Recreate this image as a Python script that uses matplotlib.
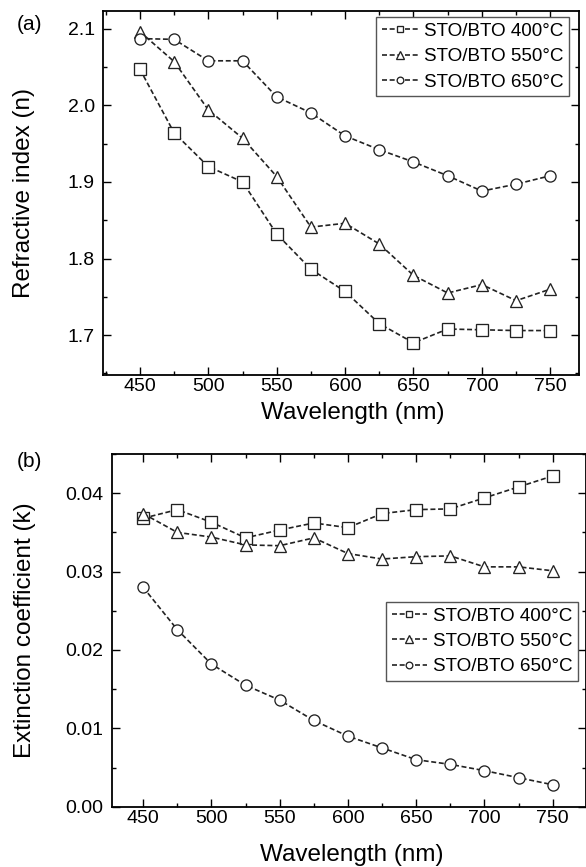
import matplotlib.pyplot as plt
from matplotlib.ticker import MultipleLocator

plt.rcParams['font.family'] = ['Liberation Sans', 'DejaVu Sans']

# Wavelength points (nm)
wl = [450, 475, 500, 525, 550, 575, 600, 625, 650, 675, 700, 725, 750]

# Refractive index (n)
n_400 = [2.047, 1.964, 1.920, 1.900, 1.832, 1.786, 1.757, 1.715, 1.690, 1.708, 1.707, 1.706, 1.706]
n_550 = [2.096, 2.057, 1.994, 1.957, 1.907, 1.841, 1.846, 1.819, 1.778, 1.755, 1.766, 1.745, 1.760]
n_650 = [2.087, 2.086, 2.058, 2.058, 2.011, 1.990, 1.960, 1.942, 1.926, 1.908, 1.888, 1.897, 1.908]

# Extinction coefficient (k)
k_400 = [0.0368, 0.0379, 0.0363, 0.0343, 0.0353, 0.0362, 0.0356, 0.0374, 0.0379, 0.0380, 0.0394, 0.0408, 0.0422]
k_550 = [0.0374, 0.0350, 0.0344, 0.0334, 0.0333, 0.0343, 0.0323, 0.0316, 0.0319, 0.0320, 0.0306, 0.0306, 0.0301]
k_650 = [0.0280, 0.0226, 0.0182, 0.0155, 0.0136, 0.0110, 0.0090, 0.0075, 0.0060, 0.0054, 0.0046, 0.0037, 0.0028]

labels = ['STO/BTO 400°C', 'STO/BTO 550°C', 'STO/BTO 650°C']
markers = ['s', '^', 'o']

W, H = 586, 867
fig = plt.figure(figsize=(W / 100, H / 100), dpi=100)

# axes boxes in pixels: left, top, right, bottom
ax1 = fig.add_axes([103 / W, 1 - 375 / H, (579 - 103) / W, (375 - 11) / H])
ax2 = fig.add_axes([111.7 / W, 1 - 806.7 / H, (585.5 - 111.7) / W, (806.7 - 454) / H])


def draw(ax, series):
    for ys, m, lab in zip(series, markers, labels):
        ax.plot(wl, ys, linestyle=(0, (3, 1.6)), color='#222222', linewidth=1.2,
                marker=m, markersize=8 if m != '^' else 9, markerfacecolor='white',
                markeredgecolor='#222222', markeredgewidth=0.95, label=lab)
    ax.xaxis.set_major_locator(MultipleLocator(50))
    ax.xaxis.set_minor_locator(MultipleLocator(25))
    ax.tick_params(which='both', direction='in', top=True, right=True, width=1.0)
    ax.tick_params(which='major', length=5.5)
    ax.tick_params(which='minor', length=3)
    ax.tick_params(axis='x', which='major', pad=2.5, labelsize=14)
    ax.tick_params(axis='y', which='major', pad=6, labelsize=14)
    for s in ax.spines.values():
        s.set_linewidth(1.3)


def add_legend(ax, anchor):
    leg = ax.legend(loc='upper right', bbox_to_anchor=anchor, borderaxespad=0,
                    fontsize=13.6, handlelength=1.9, handletextpad=0.3, labelspacing=0.43,
                    markerscale=0.6, fancybox=False, framealpha=1, edgecolor='#555555',
                    borderpad=0.3)
    leg.get_frame().set_linewidth(1.0)


draw(ax1, [n_400, n_550, n_650])
ax1.set_xlim(423, 771)
ax1.set_ylim(1.648, 2.123)
ax1.yaxis.set_major_locator(MultipleLocator(0.1))
ax1.yaxis.set_minor_locator(MultipleLocator(0.05))
ax1.set_xlabel('Wavelength (nm)', fontsize=17.5, va='baseline')
ax1.xaxis.set_label_coords(0.525, -0.121)
ax1.set_ylabel('Refractive index (n)', fontsize=17.5, va='center')
ax1.yaxis.set_label_coords(-0.166, 0.5)
add_legend(ax1, (0.979, 0.9835))

draw(ax2, [k_400, k_550, k_650])
ax2.set_xlim(427, 774)
ax2.set_ylim(0, 0.045)
ax2.yaxis.set_major_locator(MultipleLocator(0.01))
ax2.yaxis.set_minor_locator(MultipleLocator(0.005))
ax2.yaxis.set_major_formatter(plt.FuncFormatter(lambda v, p: f'{v:.2f}'))
ax2.set_xlabel('Wavelength (nm)', fontsize=17.5, va='baseline')
ax2.xaxis.set_label_coords(0.507, -0.154)
ax2.set_ylabel('Extinction coefficient (k)', fontsize=17.5, va='center')
ax2.yaxis.set_label_coords(-0.184, 0.5)
add_legend(ax2, (0.985, 0.581))

fig.text(17 / W, 1 - 25 / H, '(a)', fontsize=15, va='center', ha='left')
fig.text(17 / W, 1 - 462 / H, '(b)', fontsize=15, va='center', ha='left')

fig.savefig('out.png', dpi=100)
